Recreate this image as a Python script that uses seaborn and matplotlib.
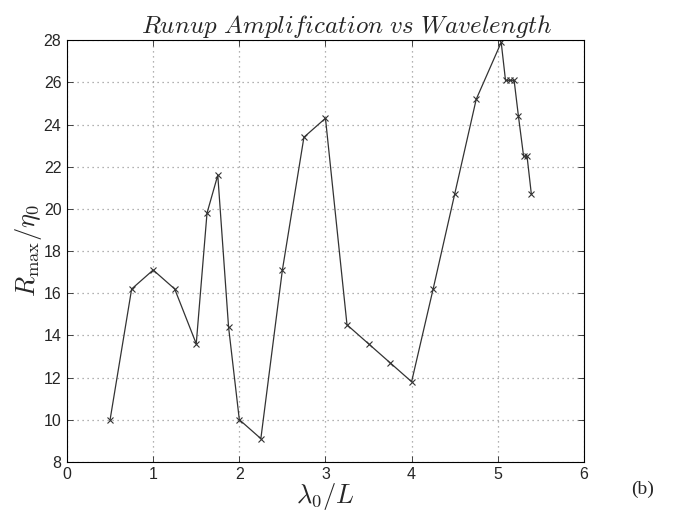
import matplotlib
matplotlib.use('Agg')
import matplotlib.pyplot as plt
import seaborn as sns
import pandas as pd

# wavelength ratio and runup amplification
wavelength = [0.5, 0.75, 1.0, 1.25, 1.5, 1.625, 1.75, 1.875, 2.0, 2.25, 2.5, 2.75, 3.0,
              3.25, 3.5, 3.75, 4.0, 4.25, 4.5, 4.75, 5.04, 5.09, 5.14, 5.19, 5.24,
              5.30, 5.34, 5.39]
runup = [10.0, 16.2, 17.1, 16.2, 13.6, 19.8, 21.6, 14.4, 10.0, 9.1, 17.1, 23.4, 24.3,
         14.5, 13.6, 12.7, 11.8, 16.2, 20.7, 25.2, 27.9, 26.1, 26.1, 26.1, 24.4,
         22.5, 22.5, 20.7]
xticks = [0, 1, 2, 3, 4, 5, 6]
yticks = [8, 10, 12, 14, 16, 18, 20, 22, 24, 26, 28]

df = pd.DataFrame({'lam': wavelength, 'R': runup})

sns.set_style('white')
plt.rcParams['font.family'] = ['Liberation Sans', 'DejaVu Sans']
plt.rcParams['mathtext.fontset'] = 'cm'

fig = plt.figure(figsize=(6.91, 5.23), dpi=100)
ax = fig.add_axes([0.097, 0.117, 0.748, 0.806])

sns.lineplot(x='lam', y='R', data=df, ax=ax, color='#333333', linewidth=0.9,
             marker='x', markersize=4, markeredgewidth=0.8, markeredgecolor='#333333')

ax.set_xlim(0, 6)
ax.set_ylim(8, 28)
ax.set_xticks(xticks)
ax.set_yticks(yticks)
ax.tick_params(direction='in', length=4, labelsize=11.5, top=True, right=True,
               left=True, bottom=True, width=0.6, pad=4)
ax.grid(True, linestyle=(0, (1, 3)), color='#999999', linewidth=0.9)
for s in ax.spines.values():
    s.set_color('black')
    s.set_linewidth(0.8)

ax.set_title(r'$Runup\ Amplification\ vs\ Wavelength$', fontsize=18, pad=5, x=0.54)
ax.set_xlabel(r'$\lambda_0/L$', fontsize=19, labelpad=-1)
ax.set_ylabel(r'$R_{\max}/\eta_0$', fontsize=19, labelpad=0)

fig.text(0.93, 0.065, '(b)', fontsize=14, family=['Liberation Serif', 'DejaVu Serif'],
         ha='center', va='center')

fig.savefig('out.png', dpi=100)
